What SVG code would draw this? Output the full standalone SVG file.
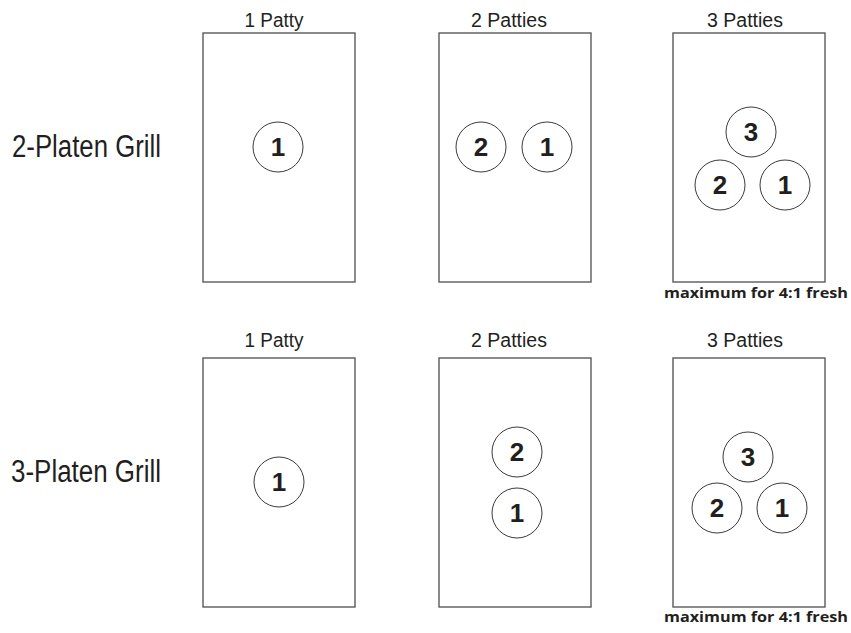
<svg xmlns="http://www.w3.org/2000/svg" width="851" height="633" viewBox="0 0 851 633">
<style>
.bg{fill:#ffffff}
.grill{fill:#ffffff;stroke:#5a5a5a;stroke-width:1.4}
.patty{fill:#ffffff;stroke:#3a3a3a;stroke-width:1}
.num{font-family:"Liberation Sans",Arial,sans-serif;font-weight:bold;font-size:26px;fill:#231f20;text-anchor:middle}
.title{font-family:"Liberation Sans",Arial,sans-serif;font-size:20px;fill:#231f20;text-anchor:middle}
.row{font-family:"Liberation Sans",Arial,sans-serif;font-size:31px;fill:#231f20}
.note{font-family:"Open Sans","Liberation Sans",sans-serif;font-weight:bold;font-size:15px;fill:#231f20}
</style>
<rect class="bg" x="0" y="0" width="851" height="633"/>
<g id="connectors"></g>
<g id="label-2platen"><text class="row" x="12" y="157" textLength="149" lengthAdjust="spacingAndGlyphs">2-Platen Grill</text></g>
<g id="label-3platen"><text class="row" x="11" y="482" textLength="150" lengthAdjust="spacingAndGlyphs">3-Platen Grill</text></g>

<g id="top-1">
<text class="title" x="274" y="27" textLength="59" lengthAdjust="spacingAndGlyphs">1 Patty</text>
<rect class="grill" x="203" y="33" width="152" height="249"/>
<circle class="patty" cx="278" cy="147" r="25"/><text class="num" x="278" y="156">1</text>
</g>
<g id="top-2">
<text class="title" x="509" y="27" textLength="76" lengthAdjust="spacingAndGlyphs">2 Patties</text>
<rect class="grill" x="439" y="33" width="152" height="249"/>
<circle class="patty" cx="481" cy="147" r="25"/><text class="num" x="481" y="156">2</text>
<circle class="patty" cx="547" cy="147" r="25"/><text class="num" x="547" y="156">1</text>
</g>
<g id="top-3">
<text class="title" x="745" y="27" textLength="76" lengthAdjust="spacingAndGlyphs">3 Patties</text>
<rect class="grill" x="673" y="33" width="152" height="249"/>
<circle class="patty" cx="751" cy="132" r="25"/><text class="num" x="751" y="141">3</text>
<circle class="patty" cx="720" cy="185" r="25"/><text class="num" x="720" y="194">2</text>
<circle class="patty" cx="785" cy="185" r="25"/><text class="num" x="785" y="194">1</text>
<text class="note" x="664" y="298" textLength="184" lengthAdjust="spacingAndGlyphs">maximum for 4:1 fresh</text>
</g>

<g id="bottom-1">
<text class="title" x="274" y="347" textLength="59" lengthAdjust="spacingAndGlyphs">1 Patty</text>
<rect class="grill" x="203" y="358" width="152" height="249"/>
<circle class="patty" cx="279" cy="482" r="25"/><text class="num" x="279" y="491">1</text>
</g>
<g id="bottom-2">
<text class="title" x="509" y="347" textLength="76" lengthAdjust="spacingAndGlyphs">2 Patties</text>
<rect class="grill" x="439" y="358" width="152" height="249"/>
<circle class="patty" cx="517" cy="452" r="25"/><text class="num" x="517" y="461">2</text>
<circle class="patty" cx="517" cy="513" r="25"/><text class="num" x="517" y="522">1</text>
</g>
<g id="bottom-3">
<text class="title" x="745" y="347" textLength="76" lengthAdjust="spacingAndGlyphs">3 Patties</text>
<rect class="grill" x="673" y="358" width="152" height="249"/>
<circle class="patty" cx="748" cy="457" r="25"/><text class="num" x="748" y="466">3</text>
<circle class="patty" cx="717" cy="508" r="25"/><text class="num" x="717" y="517">2</text>
<circle class="patty" cx="782" cy="508" r="25"/><text class="num" x="782" y="517">1</text>
<text class="note" x="664" y="622" textLength="184" lengthAdjust="spacingAndGlyphs">maximum for 4:1 fresh</text>
</g>
</svg>
